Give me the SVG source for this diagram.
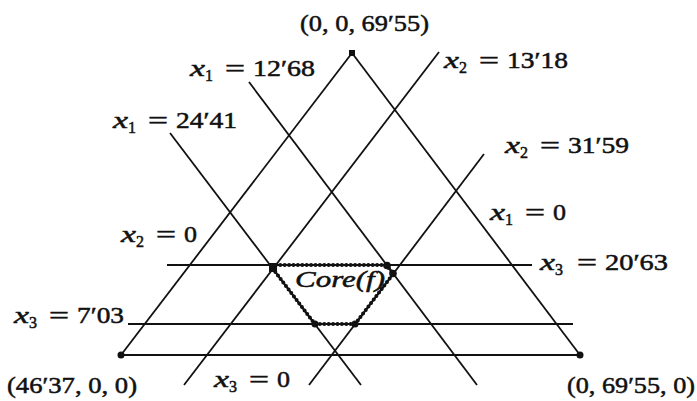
<svg xmlns="http://www.w3.org/2000/svg" width="697" height="401" viewBox="0 0 697 401">
<style>
.ln{stroke:#111;stroke-width:1.8;fill:none}
.t{font-family:"Liberation Serif","DejaVu Serif",serif;font-size:23px;fill:#111;stroke:#111;stroke-width:0.5}
.v{font-style:italic}
.s{font-size:16px}
.core{fill:none;stroke:#111}
</style>
<rect width="697" height="401" fill="#fff"/>
<g id="connectors">
<line class="ln" x1="121" y1="355" x2="352" y2="53"/>
<line class="ln" x1="352" y1="53" x2="580" y2="355"/>
<line class="ln" x1="121" y1="355" x2="580" y2="355"/>
<line class="ln" x1="249" y1="82" x2="477" y2="385"/>
<line class="ln" x1="170" y1="133" x2="361" y2="385"/>
<line class="ln" x1="439" y1="52" x2="184" y2="385"/>
<line class="ln" x1="484" y1="154" x2="309" y2="385"/>
<line class="ln" x1="167" y1="265" x2="532" y2="265"/>
<line class="ln" x1="128" y1="324" x2="573" y2="324"/>
</g>
<g id="core">
<polygon class="core" stroke-width="2" points="275.9,265 386.7,265 393.2,273.8 355.2,324 314.8,324 272.9,268.8"/>
<polygon class="core" stroke-width="4" stroke-linecap="round" stroke-dasharray="0 4.4" points="275.9,265 386.7,265 393.2,273.8 355.2,324 314.8,324 272.9,268.8"/>
<rect x="269" y="263" width="8" height="9" fill="#111"/>
<circle cx="387" cy="265.5" r="3.8" fill="#111"/>
<circle cx="393" cy="273.5" r="3.8" fill="#111"/>
<circle cx="355" cy="324" r="3.5" fill="#111"/>
<circle cx="315" cy="324" r="3.5" fill="#111"/>
<text class="t v" x="295" y="287" font-size="22" stroke-width="0.2" textLength="90" lengthAdjust="spacingAndGlyphs">Core(f)</text>
</g>
<g id="vertex-top">
<rect x="349" y="50" width="6" height="6" fill="#111"/>
<text class="t" x="300" y="31" textLength="129" lengthAdjust="spacingAndGlyphs">(0, 0, 69′55)</text>
</g>
<g id="vertex-left">
<circle cx="121" cy="355" r="3.5" fill="#111"/>
<text class="t" x="7" y="393" textLength="130" lengthAdjust="spacingAndGlyphs">(46′37, 0, 0)</text>
</g>
<g id="vertex-right">
<circle cx="580" cy="355" r="3.5" fill="#111"/>
<text class="t" x="567" y="393" textLength="128" lengthAdjust="spacingAndGlyphs">(0, 69′55, 0)</text>
</g>
<g id="label-x1-1268" transform="translate(190,76)">
<text class="t v" x="0" y="0" textLength="15" lengthAdjust="spacingAndGlyphs">x</text><text class="t s" x="15" y="5">1</text><text class="t" x="35" y="0" textLength="20" lengthAdjust="spacingAndGlyphs">=</text><text class="t" x="63" y="0" textLength="62" lengthAdjust="spacingAndGlyphs">12′68</text>
</g>
<g id="label-x1-2441" transform="translate(113,128)">
<text class="t v" x="0" y="0" textLength="15" lengthAdjust="spacingAndGlyphs">x</text><text class="t s" x="15" y="5">1</text><text class="t" x="35" y="0" textLength="20" lengthAdjust="spacingAndGlyphs">=</text><text class="t" x="63" y="0" textLength="61" lengthAdjust="spacingAndGlyphs">24′41</text>
</g>
<g id="label-x2-1318" transform="translate(444,68)">
<text class="t v" x="0" y="0" textLength="15" lengthAdjust="spacingAndGlyphs">x</text><text class="t s" x="15" y="5">2</text><text class="t" x="35" y="0" textLength="20" lengthAdjust="spacingAndGlyphs">=</text><text class="t" x="63" y="0" textLength="61" lengthAdjust="spacingAndGlyphs">13′18</text>
</g>
<g id="label-x2-3159" transform="translate(505,153)">
<text class="t v" x="0" y="0" textLength="15" lengthAdjust="spacingAndGlyphs">x</text><text class="t s" x="15" y="5">2</text><text class="t" x="35" y="0" textLength="20" lengthAdjust="spacingAndGlyphs">=</text><text class="t" x="63" y="0" textLength="61" lengthAdjust="spacingAndGlyphs">31′59</text>
</g>
<g id="label-x1-0" transform="translate(490,220)">
<text class="t v" x="0" y="0" textLength="15" lengthAdjust="spacingAndGlyphs">x</text><text class="t s" x="15" y="5">1</text><text class="t" x="35" y="0" textLength="20" lengthAdjust="spacingAndGlyphs">=</text><text class="t" x="63" y="0" textLength="13" lengthAdjust="spacingAndGlyphs">0</text>
</g>
<g id="label-x3-2063" transform="translate(540,270)">
<text class="t v" x="0" y="0" textLength="15" lengthAdjust="spacingAndGlyphs">x</text><text class="t s" x="15" y="5">3</text><text class="t" x="37" y="0" textLength="20" lengthAdjust="spacingAndGlyphs">=</text><text class="t" x="65" y="0" textLength="63" lengthAdjust="spacingAndGlyphs">20′63</text>
</g>
<g id="label-x2-0" transform="translate(121,242)">
<text class="t v" x="0" y="0" textLength="15" lengthAdjust="spacingAndGlyphs">x</text><text class="t s" x="15" y="5">2</text><text class="t" x="35" y="0" textLength="20" lengthAdjust="spacingAndGlyphs">=</text><text class="t" x="63" y="0" textLength="13" lengthAdjust="spacingAndGlyphs">0</text>
</g>
<g id="label-x3-703" transform="translate(14,323)">
<text class="t v" x="0" y="0" textLength="15" lengthAdjust="spacingAndGlyphs">x</text><text class="t s" x="15" y="5">3</text><text class="t" x="35" y="0" textLength="20" lengthAdjust="spacingAndGlyphs">=</text><text class="t" x="63" y="0" textLength="47" lengthAdjust="spacingAndGlyphs">7′03</text>
</g>
<g id="label-x3-0" transform="translate(214,387)">
<text class="t v" x="0" y="0" textLength="15" lengthAdjust="spacingAndGlyphs">x</text><text class="t s" x="15" y="5">3</text><text class="t" x="35" y="0" textLength="20" lengthAdjust="spacingAndGlyphs">=</text><text class="t" x="63" y="0" textLength="13" lengthAdjust="spacingAndGlyphs">0</text>
</g>
</svg>
